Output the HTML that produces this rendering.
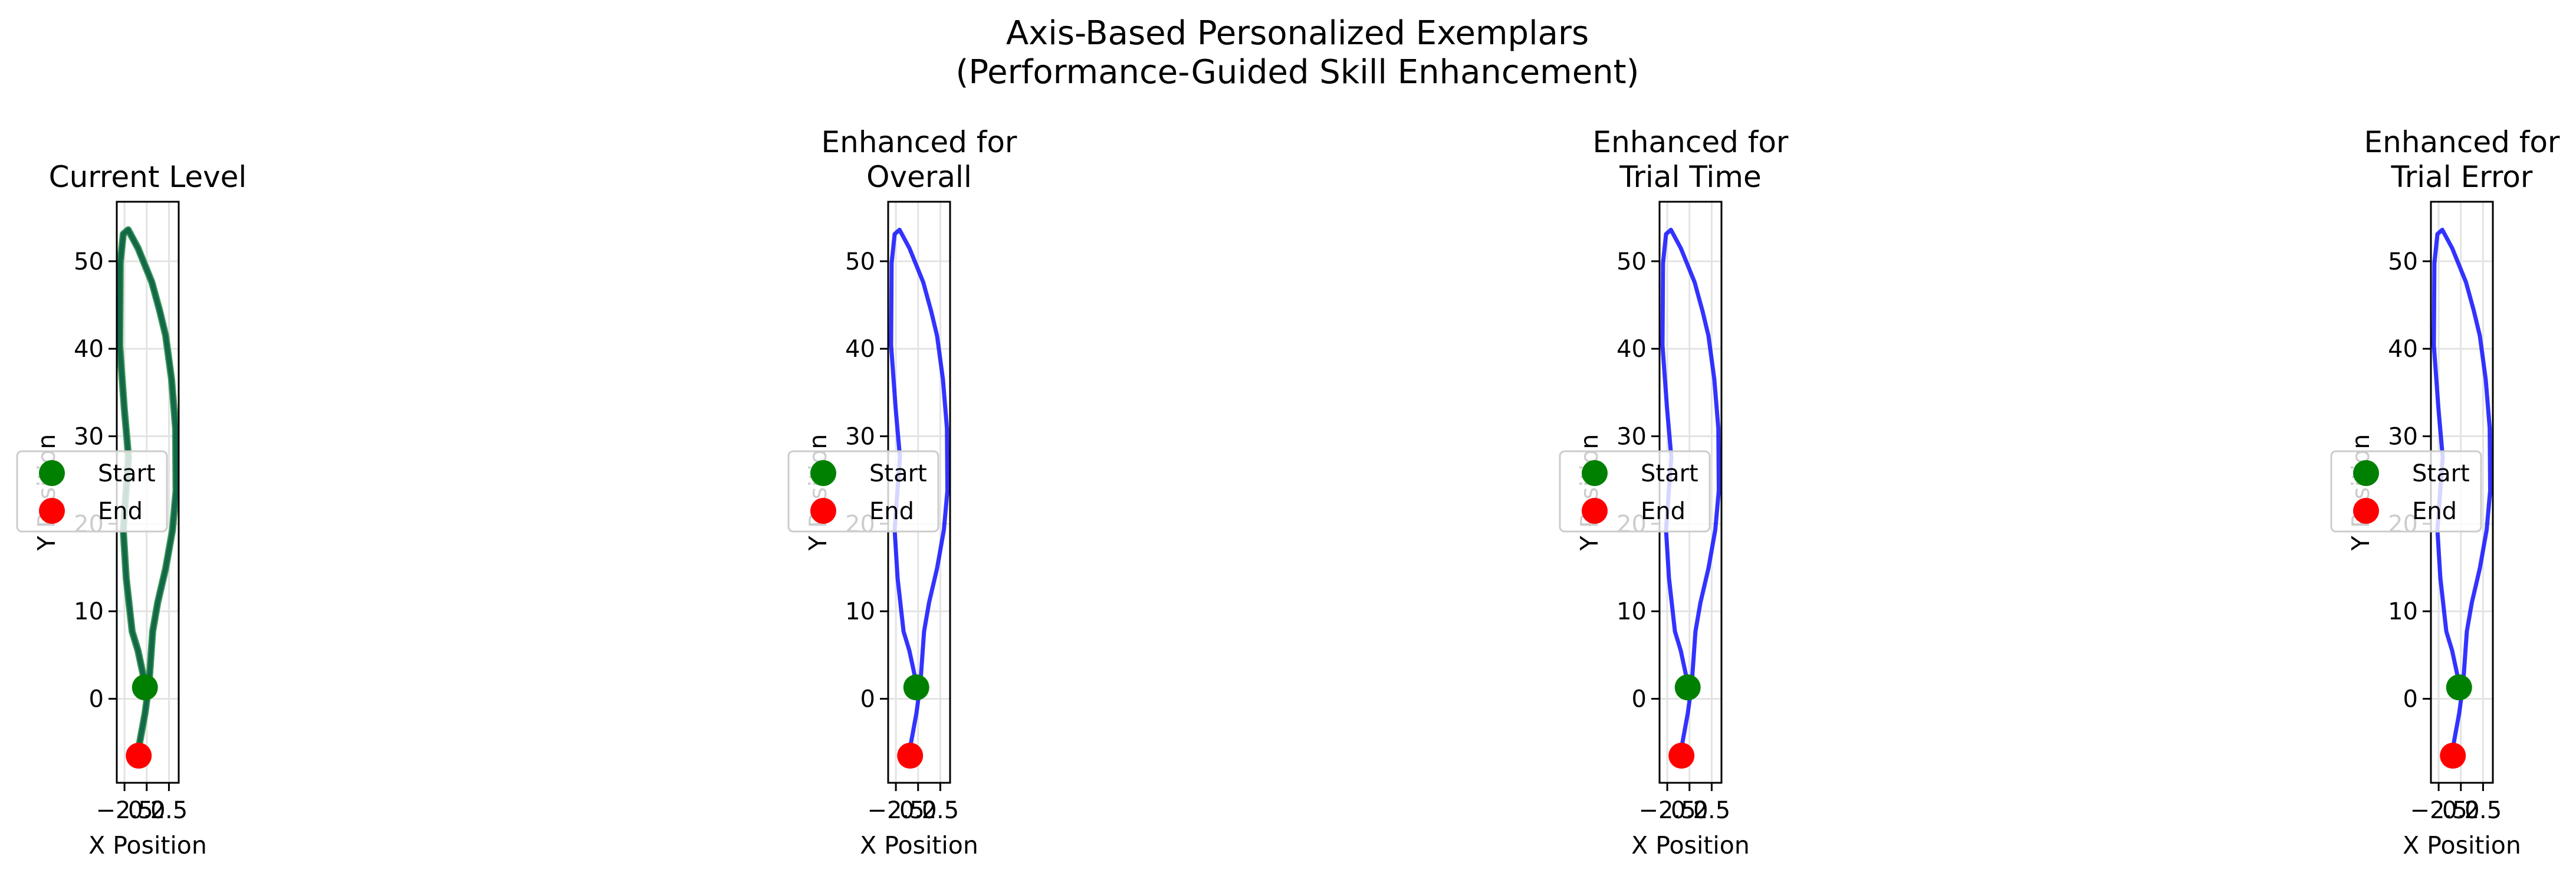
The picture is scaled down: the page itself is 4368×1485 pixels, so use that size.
<!DOCTYPE html>
<html><head><meta charset="utf-8"><style>html,body{margin:0;padding:0;background:#fff}svg{display:block}</style></head>
<body>
<svg id="fig" width="4368" height="1485" xmlns="http://www.w3.org/2000/svg" font-family="'DejaVu Sans','Liberation Sans',sans-serif">
<rect width="4368" height="1485" fill="#fff"/>
<text x="2200" y="75" font-size="56" text-anchor="middle">Axis-Based Personalized Exemplars</text>
<text x="2200" y="141" font-size="56" text-anchor="middle">(Performance-Guided Skill Enhancement)</text>
</svg>
<script>
const panelTitles = [["Current Level"], ["Enhanced for", "Overall"], ["Enhanced for", "Trial Time"], ["Enhanced for", "Trial Error"]];
const xTicks = [-2.5, 0.0, 2.5];
const xTickLabels = ["\u22122.5", "0.0", "2.5"];
const yTicks = [0, 10, 20, 30, 40, 50];
const trajX = [-0.1, -0.98, -1.64, -2.31, -2.64, -2.04, -2.53, -3.04, -2.98, -2.64, -2.09, -0.98, 0.58, 1.47, 2.13, 2.8, 3.25, 3.3, 2.9, 2.13, 1.24, 0.67, 0.25, -0.2, -0.9];
const trajY = [1.3, 5.5, 7.7, 13.8, 19.3, 27.6, 33.2, 40.4, 49.8, 53.1, 53.6, 51.5, 47.6, 44.3, 41.5, 36.5, 30.9, 23.8, 19.3, 14.9, 11.0, 7.7, 1.6, -1.7, -5.6];
const startPt = [-0.2, 1.3];
const endPt = [-0.9, -6.5];

const NS = "http://www.w3.org/2000/svg";
const svg = document.getElementById('fig');
function mk(tag, attrs, parent) {
  const e = document.createElementNS(NS, tag);
  for (const k in attrs) e.setAttribute(k, attrs[k]);
  (parent || svg).appendChild(e);
  return e;
}
const xmin = -3.37, xmax = 3.6, ymin = -9.6, ymax = 56.8;
const axTop = 342, axBottom = 1327, axWidth = 105;
panelTitles.forEach((title, i) => {
  const left = 198 + 1308 * i, right = left + axWidth;
  const sx = v => left + (v - xmin) / (xmax - xmin) * axWidth;
  const sy = v => axBottom - (v - ymin) / (ymax - ymin) * (axBottom - axTop);
  const g = mk('g', {});
  
  
  xTicks.forEach(t => {
    const l = mk('line', {x1: sx(t), x2: sx(t), y1: axTop, y2: axBottom, stroke: '#e3e3e3', 'stroke-width': 3}, g);
    
    
  });
  yTicks.forEach(t => {
    const l = mk('line', {x1: left, x2: right, y1: sy(t), y2: sy(t), stroke: '#e3e3e3', 'stroke-width': 3}, g);
    
    
  });
  const pts = trajX.map((x, k) => sx(x).toFixed(1) + ',' + sy(trajY[k]).toFixed(1)).join(' ');
  if (i === 0) {
    const h = mk('polyline', {points: pts, fill: 'none', stroke: '#3d9a55', 'stroke-width': 12, 'stroke-linejoin': 'round', 'stroke-linecap': 'round'}, g);
    
    
    const p = mk('polyline', {points: pts, fill: 'none', stroke: '#14684a', 'stroke-width': 8, 'stroke-linejoin': 'round', 'stroke-linecap': 'round'}, g);
    
    
  } else {
    const p = mk('polyline', {points: pts, fill: 'none', stroke: 'rgba(0,0,255,0.8)', 'stroke-width': 7, 'stroke-linejoin': 'round', 'stroke-linecap': 'round'}, g);
    
    
  }
  const s = mk('ellipse', {cx: sx(startPt[0]), cy: sy(startPt[1]), rx: 22, ry: 22, fill: '#008000'}, g);
  
  
  const e = mk('ellipse', {cx: sx(endPt[0]), cy: sy(endPt[1]), rx: 22, ry: 22, fill: '#ff0000'}, g);
  
  
  const fr = mk('rect', {x: left, y: axTop, width: axWidth, height: axBottom - axTop, fill: 'none', stroke: '#000', 'stroke-width': 3}, g);
  
  
  yTicks.forEach(t => {
    mk('line', {x1: left - 14, x2: left, y1: sy(t), y2: sy(t), stroke: '#000', 'stroke-width': 3}, g);
    const tx = mk('text', {x: left - 22, y: sy(t) + 14, 'font-size': 40, 'text-anchor': 'end'}, g);
    tx.textContent = String(t);
    
    
  });
  xTicks.forEach((t, k) => {
    mk('line', {x1: sx(t), x2: sx(t), y1: axBottom, y2: axBottom + 14, stroke: '#000', 'stroke-width': 3}, g);
    const tx = mk('text', {x: sx(t), y: axBottom + 60, 'font-size': 40, 'text-anchor': 'middle'}, g);
    tx.textContent = xTickLabels[k];
    
    
  });
  const xl = mk('text', {x: left + axWidth / 2, y: 1447, 'font-size': 41, 'text-anchor': 'middle'}, g);
  xl.textContent = 'X Position';
  
  
  const yx = left - 105, yy = (axTop + axBottom) / 2;
  const yl = mk('text', {x: yx, y: yy, 'font-size': 41, 'text-anchor': 'middle', transform: 'rotate(-90 ' + yx + ' ' + yy + ')'}, g);
  yl.textContent = 'Y Position';
  
  
  const cx = left + axWidth / 2;
  title.forEach((line, k) => {
    const y = title.length === 1 ? 317 : 258 + k * 59;
    const tt = mk('text', {x: cx, y: y, 'font-size': 50, 'text-anchor': 'middle'}, g);
    tt.textContent = line;
    
    
  });
  const lg = mk('g', {}, g);
  
  
  const lx = left - 169;
  mk('rect', {x: lx, y: 765, width: 254, height: 136, rx: 8, fill: 'rgba(255,255,255,0.8)', stroke: '#ccc', 'stroke-width': 3}, lg);
  const ms = mk('ellipse', {cx: lx + 59, cy: 802, rx: 22, ry: 22, fill: '#008000'}, lg);
  
  
  const me = mk('ellipse', {cx: lx + 59, cy: 866, rx: 22, ry: 22, fill: '#ff0000'}, lg);
  
  
  const ts = mk('text', {x: lx + 137, y: 816, 'font-size': 40}, lg);
  ts.textContent = 'Start';
  
  
  const te = mk('text', {x: lx + 137, y: 880, 'font-size': 40}, lg);
  te.textContent = 'End';
  
  
});
</script>
</body></html>
